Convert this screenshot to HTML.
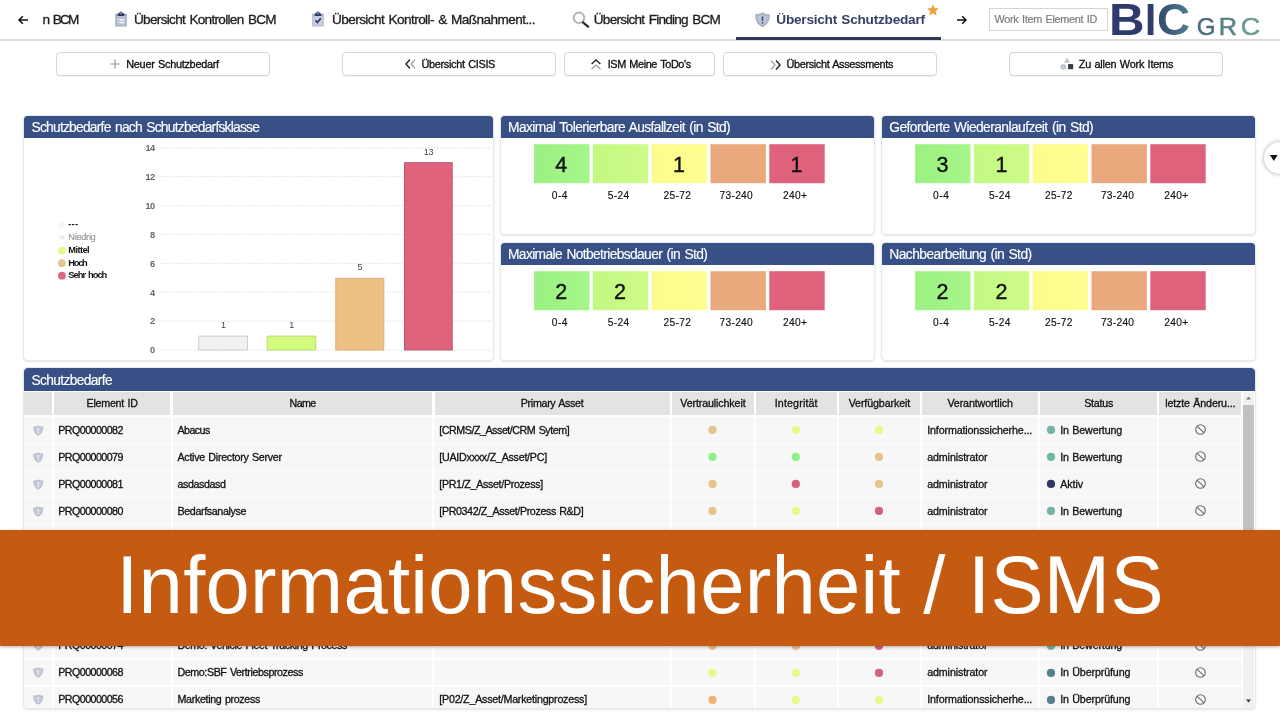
<!DOCTYPE html>
<html lang="de">
<head>
<meta charset="utf-8">
<title>Informationssicherheit / ISMS</title>
<style>
html,body{margin:0;padding:0;}
body{width:1280px;height:720px;overflow:hidden;background:#fff;position:relative;font-family:"Liberation Sans",sans-serif;color:#222;}
.abs{position:absolute;}
.t{position:absolute;white-space:nowrap;line-height:1;}
svg{position:absolute;overflow:visible;}
/* top bar */
#topline{left:0;top:39px;width:1280px;height:1.5px;background:#dcdcdc;}
.tab{font-size:13.6px;color:#1c1c1c;top:13.2px;-webkit-text-stroke:0.3px #1c1c1c;}
.tab.act{font-weight:bold;color:#363f66;-webkit-text-stroke:0;}
#activeline{left:736px;top:36.8px;width:205px;height:2.8px;background:#2e3858;}
#search{left:989px;top:8px;width:119.3px;height:22.5px;border:1px solid #d6d6d6;box-sizing:border-box;background:#fff;}
#search .t{left:4.5px;top:5.3px;font-size:10.9px;color:#7d7d7d;-webkit-text-stroke:0.2px #7d7d7d;}
/* buttons */
.btn{position:absolute;top:52px;height:23.5px;border:1px solid #d6d6d6;border-radius:4px;background:#fff;box-sizing:border-box;box-shadow:0 1px 1px rgba(0,0,0,.06);}
.btn .t{font-size:10.9px;top:5.7px;color:#111;-webkit-text-stroke:0.32px #111;}
/* panels */
.panel{position:absolute;background:#fff;border-radius:4px;box-shadow:0 0 0 1px #e6e8ec,0 1px 3px rgba(0,0,0,.22);}
.ph{position:absolute;left:0;top:0;right:0;height:22.5px;background:#385086;border-radius:3.5px 3.5px 0 0;}
.ph .t{left:7.5px;top:5.2px;font-size:13.8px;color:#fff;-webkit-text-stroke:0.15px #fff;}
.tn{top:39.6px;width:55.4px;text-align:center;font-size:21.5px;color:#111;-webkit-text-stroke:0.4px #111;}
.tl{position:absolute;top:75.5px;width:55.4px;text-align:center;font-size:10.2px;color:#111;line-height:1;white-space:nowrap;-webkit-text-stroke:0.15px #111;}
/* chart */
.leg{font-size:9.3px;color:#111;}
.ld{position:absolute;width:8px;height:8px;border-radius:50%;}
/* table */
#tbl{left:24px;top:368px;width:1231.3px;height:340px;overflow:hidden;}
.th{position:absolute;top:23.8px;height:23.3px;background:#e3e3e3;}
.th .t{left:0;right:0;text-align:center;top:6.2px;font-size:10.7px;color:#111;-webkit-text-stroke:0.3px #111;}
.row{position:absolute;left:0;width:1219px;height:25.6px;background:#f7f7f7;}
.vl{position:absolute;top:24px;bottom:0;width:2px;background:#fff;}
.row .t{font-size:10.7px;top:7.5px;color:#111;-webkit-text-stroke:0.3px #111;}
.dot{position:absolute;top:8.7px;width:8.4px;height:8.4px;border-radius:50%;}
.sd{position:absolute;top:8.7px;left:1022.8px;width:8.4px;height:8.4px;border-radius:50%;}
#banner{left:0;top:530px;width:1280px;height:116px;background:#c55a11;box-shadow:0 1px 3px rgba(0,0,0,.3);}
#banner .t{left:116.2px;top:15.8px;font-size:79.6px;color:#fff;transform:scaleY(1.035);transform-origin:0 82%;}
</style>
</head>
<body>
<div class="abs" id="topline"></div>
<div class="abs" id="activeline"></div>
<svg style="left:18px;top:15px" width="10" height="10" viewBox="0 0 10 10"><path d="M10 5H1.2M4.8 1.2L1 5l3.8 3.8" fill="none" stroke="#111" stroke-width="1.5"/></svg>
<div class="t tab" style="left:42.5px;letter-spacing:-1.751px;word-spacing:2.295px">n BCM</div>
<svg style="left:115px;top:11px" width="12" height="16" viewBox="0 0 12 16"><rect x="0.2" y="2.4" width="11.6" height="13.2" rx="1.2" fill="#a0abc2"/><rect x="1.5" y="4.6" width="9" height="9.8" fill="#b7c1d5"/><path d="M2.6 5V3.2L4.6 1.6Q6 -0.4 7.4 1.6L9.4 3.2V5Z" fill="#303c67"/><circle cx="6" cy="2.2" r="0.7" fill="#dfe3ee"/><path d="M4.4 8.7h5M4.4 11.4h5" stroke="#f3f5f9" stroke-width="1.5"/><path d="M2.4 8.7h1M2.4 11.4h1" stroke="#dfe4ee" stroke-width="1.3"/></svg>
<div class="t tab" style="left:134px;letter-spacing:-0.704px;word-spacing:1.248px">Übersicht Kontrollen BCM</div>
<svg style="left:312.3px;top:11px" width="12" height="16" viewBox="0 0 12 16"><rect x="0.2" y="2.4" width="11.6" height="13.2" rx="1.2" fill="#b3b9cf"/><rect x="1.5" y="4.6" width="9" height="9.8" fill="#c9cee0"/><path d="M2.6 5V3.2L4.6 1.6Q6 -0.4 7.4 1.6L9.4 3.2V5Z" fill="#303c67"/><circle cx="6" cy="2.2" r="0.7" fill="#dfe3ee"/><path d="M3.4 9.4l2 2 3.4-4" fill="none" stroke="#383e69" stroke-width="1.7"/></svg>
<div class="t tab" style="left:332px;letter-spacing:-0.578px;word-spacing:1.122px">Übersicht Kontroll- &amp; Maßnahment...</div>
<svg style="left:572px;top:11px" width="17" height="17" viewBox="0 0 17 17"><circle cx="7" cy="6.8" r="5.3" fill="#fbfbfb" stroke="#b3b3b3" stroke-width="1.9"/><path d="M10.9 11.4l5.2 4.3" stroke="#2e2e33" stroke-width="2.3" stroke-linecap="round"/></svg>
<div class="t tab" style="left:593.8px;letter-spacing:-0.765px;word-spacing:1.309px">Übersicht Finding BCM</div>
<svg style="left:754.6px;top:11.5px" width="15.00" height="15.60" viewBox="0 0 15 15.6"><path d="M7.5 0.2C5.6 1.6 3.2 2.3 0.3 2.3C0.1 8.6 2.3 13 7.5 15.4C12.7 13 14.9 8.6 14.7 2.3C11.8 2.3 9.4 1.6 7.5 0.2Z" fill="#a9afbb"/><path d="M7.5 2.2C6 3.2 4.2 3.8 2.2 3.9C2.2 8.6 3.9 11.6 7.5 13.4C11.1 11.6 12.8 8.6 12.8 3.9C10.8 3.8 9 3.2 7.5 2.2Z" fill="#b9c5d8"/><rect x="6.7" y="4.4" width="1.6" height="4.6" fill="#46557a"/><rect x="6.7" y="10" width="1.6" height="1.6" fill="#46557a"/></svg>
<div class="t tab act" style="left:776.3px;letter-spacing:-0.222px;word-spacing:0.766px">Übersicht Schutzbedarf</div>
<svg style="left:926.5px;top:3.5px" width="12" height="12" viewBox="0 0 12 12"><path d="M6 0.3l1.7 3.8 4.1 0.4-3.1 2.8 0.9 4.1L6 9.3 2.4 11.4l0.9-4.1L0.2 4.5l4.1-0.4z" fill="#e9a43e"/></svg>
<svg style="left:956.5px;top:15px" width="10" height="10" viewBox="0 0 10 10"><path d="M0 5h8.8M5.2 1.2L9 5 5.2 8.8" fill="none" stroke="#111" stroke-width="1.5"/></svg>
<div class="abs" id="search"><div class="t" style="letter-spacing:-0.297px;word-spacing:0.733px">Work Item Element ID</div></div>
<svg style="left:0;top:0" width="1280" height="40" viewBox="0 0 1280 40" font-family="Liberation Sans, sans-serif"><defs><linearGradient id="lgc" gradientUnits="userSpaceOnUse" x1="0" x2="30" y1="0" y2="0"><stop offset="0" stop-color="#33466f"/><stop offset="1" stop-color="#4d7e8c"/></linearGradient></defs><g transform="translate(1109.01,34.6) scale(1.118,1)"><text x="0" y="0" font-size="44.0" font-weight="bold" fill="#2e3a6b">B</text></g><g transform="translate(1145.11,34.6) scale(0.915,1)"><text x="0" y="0" font-size="44.0" font-weight="bold" fill="#2f3e6d">I</text></g><g transform="translate(1157.12,34.6) scale(1.043,1)"><text x="0" y="0" font-size="44.0" font-weight="bold" fill="url(#lgc)">C</text></g><g transform="translate(1196.78,34.6) scale(1.043,1)"><text x="0" y="0" font-size="23.2" font-weight="normal" fill="#4c6c7f" stroke="#4c6c7f" stroke-width="0.5">G</text></g><g transform="translate(1218.63,34.6) scale(1.089,1)"><text x="0" y="0" font-size="23.2" font-weight="normal" fill="#598388" stroke="#598388" stroke-width="0.5">R</text></g><g transform="translate(1240.64,34.6) scale(1.157,1)"><text x="0" y="0" font-size="23.2" font-weight="normal" fill="#6a9a93" stroke="#6a9a93" stroke-width="0.5">C</text></g></svg>
<div class="btn" style="left:56px;width:214px"><svg style="left:52.5px;top:6px" width="10" height="10" viewBox="0 0 10 10"><path d="M5 0.3v9.4M0.3 5h9.4" stroke="#8e8e8e" stroke-width="1.1"/></svg><div class="t" style="left:69.25px;letter-spacing:-0.277px;word-spacing:0.713px">Neuer Schutzbedarf</div></div>
<div class="btn" style="left:342px;width:214px"><svg style="left:62px;top:6px" width="11" height="10" viewBox="0 0 11 10"><path d="M5 0.6L1 5l4 4.4" fill="none" stroke="#2a2a2a" stroke-width="1.5"/><path d="M10 0.6L6 5l4 4.4" fill="none" stroke="#999" stroke-width="1.2"/></svg><div class="t" style="left:78.5px;letter-spacing:-0.310px;word-spacing:0.746px">Übersicht CISIS</div></div>
<div class="btn" style="left:564px;width:150.6px"><svg style="left:26px;top:6px" width="10" height="11" viewBox="0 0 10 11"><path d="M0.6 5L5 1l4.4 4" fill="none" stroke="#2a2a2a" stroke-width="1.5"/><path d="M0.6 10L5 6l4.4 4" fill="none" stroke="#999" stroke-width="1.2"/></svg><div class="t" style="left:42.75px;letter-spacing:-0.410px;word-spacing:0.846px">ISM Meine ToDo's</div></div>
<div class="btn" style="left:723px;width:214px"><svg style="left:46px;top:6.5px" width="11" height="10" viewBox="0 0 11 10"><path d="M1 0.6L5 5 1 9.4" fill="none" stroke="#999" stroke-width="1.2"/><path d="M6 0.6L10 5 6 9.4" fill="none" stroke="#2a2a2a" stroke-width="1.5"/></svg><div class="t" style="left:62.5px;letter-spacing:-0.355px;word-spacing:0.791px">Übersicht Assessments</div></div>
<div class="btn" style="left:1009px;width:214px"><svg style="left:50.3px;top:4px" width="14" height="13" viewBox="0 0 14 13"><path d="M7 0.5l3 5.2H4z" fill="#c2c6d6"/><circle cx="3.3" cy="9.8" r="2.1" fill="#cfd4e2" stroke="#a9afc4" stroke-width="1.1"/><rect x="8" y="7" width="5.2" height="5.2" rx="0.8" fill="#3b3f4c"/></svg><div class="t" style="left:68.75px;letter-spacing:-0.222px;word-spacing:0.658px">Zu allen Work Items</div></div>
<div class="abs" style="left:1264px;top:141.5px;width:32px;height:32px;border-radius:50%;background:#fff;box-shadow:0 0 4px rgba(0,0,0,.36)"></div>
<svg style="left:1270px;top:155px" width="7.6" height="6" viewBox="0 0 7.6 6"><path d="M0 0h7.6L3.8 6z" fill="#111"/></svg>
<div class="panel" style="left:24px;top:115.5px;width:468.5px;height:244.5px"><div class="ph"><div class="t" style="letter-spacing:-0.759px;word-spacing:1.311px">Schutzbedarfe nach Schutzbedarfsklasse</div></div>
<svg style="left:0;top:0" width="468" height="245" viewBox="0 0 468 245" font-family="Liberation Sans, sans-serif"><line x1="137" y1="234.0" x2="467.5" y2="234.0" stroke="#dedede" stroke-width="1.2" stroke-dasharray="1.3 1.7"/><text x="130.6" y="237.3" font-size="9.2" font-weight="bold" letter-spacing="-0.6" fill="#666" text-anchor="end">0</text><line x1="137" y1="205.1" x2="467.5" y2="205.1" stroke="#dedede" stroke-width="1.2" stroke-dasharray="1.3 1.7"/><text x="130.6" y="208.4" font-size="9.2" font-weight="bold" letter-spacing="-0.6" fill="#666" text-anchor="end">2</text><line x1="137" y1="176.2" x2="467.5" y2="176.2" stroke="#dedede" stroke-width="1.2" stroke-dasharray="1.3 1.7"/><text x="130.6" y="179.5" font-size="9.2" font-weight="bold" letter-spacing="-0.6" fill="#666" text-anchor="end">4</text><line x1="137" y1="147.3" x2="467.5" y2="147.3" stroke="#dedede" stroke-width="1.2" stroke-dasharray="1.3 1.7"/><text x="130.6" y="150.6" font-size="9.2" font-weight="bold" letter-spacing="-0.6" fill="#666" text-anchor="end">6</text><line x1="137" y1="118.5" x2="467.5" y2="118.5" stroke="#dedede" stroke-width="1.2" stroke-dasharray="1.3 1.7"/><text x="130.6" y="121.8" font-size="9.2" font-weight="bold" letter-spacing="-0.6" fill="#666" text-anchor="end">8</text><line x1="137" y1="89.6" x2="467.5" y2="89.6" stroke="#dedede" stroke-width="1.2" stroke-dasharray="1.3 1.7"/><text x="130.6" y="92.9" font-size="9.2" font-weight="bold" letter-spacing="-0.6" fill="#666" text-anchor="end">10</text><line x1="137" y1="60.7" x2="467.5" y2="60.7" stroke="#dedede" stroke-width="1.2" stroke-dasharray="1.3 1.7"/><text x="130.6" y="64.0" font-size="9.2" font-weight="bold" letter-spacing="-0.6" fill="#666" text-anchor="end">12</text><line x1="137" y1="31.8" x2="467.5" y2="31.8" stroke="#dedede" stroke-width="1.2" stroke-dasharray="1.3 1.7"/><text x="130.6" y="35.1" font-size="9.2" font-weight="bold" letter-spacing="-0.6" fill="#666" text-anchor="end">14</text><rect x="174.8" y="220.1" width="48.7" height="13.9" fill="#f2f2f2" stroke="#cdcdcd" stroke-width="1"/><text x="199.2" y="212.1" font-size="9" letter-spacing="-0.4" fill="#444" text-anchor="middle">1</text><rect x="243.2" y="220.1" width="48.6" height="13.9" fill="#d3fb7d" stroke="#b9dc74" stroke-width="1"/><text x="267.5" y="212.1" font-size="9" letter-spacing="-0.4" fill="#444" text-anchor="middle">1</text><rect x="311.8" y="162.3" width="48.0" height="71.7" fill="#ecc182" stroke="#d9b076" stroke-width="1"/><text x="335.8" y="154.3" font-size="9" letter-spacing="-0.4" fill="#444" text-anchor="middle">5</text><rect x="380.5" y="46.7" width="47.7" height="187.3" fill="#e0637d" stroke="#b55b6e" stroke-width="1"/><text x="404.4" y="38.7" font-size="9" letter-spacing="-0.4" fill="#444" text-anchor="middle">13</text></svg>
<svg style="left:0;top:0" width="100" height="245" viewBox="0 0 100 245"><circle cx="37.9" cy="108.95" r="3.9" fill="#f7f7f7"/><path d="M35.699999999999996 119.5l4.4 4.4M40.1 119.5l-4.4 4.4" stroke="#dcecd5" stroke-width="1.1"/><circle cx="37.9" cy="134.7" r="3.9" fill="#e3fa8c"/><circle cx="37.9" cy="147.2" r="3.9" fill="#e6c48d"/><circle cx="37.9" cy="159.7" r="3.9" fill="#da6a85"/></svg>
<div class="t leg" style="left:44.3px;top:104.75px;color:#111;font-weight:700;letter-spacing:0.224px">---</div>
<div class="t leg" style="left:44.3px;top:117.5px;color:#9a9a9a;font-weight:400;-webkit-text-stroke:0.2px currentColor;letter-spacing:-0.327px">Niedrig</div>
<div class="t leg" style="left:44.3px;top:130.5px;color:#111;font-weight:700;letter-spacing:-0.607px">Mittel</div>
<div class="t leg" style="left:44.3px;top:143.0px;color:#111;font-weight:700;letter-spacing:-1.252px">Hoch</div>
<div class="t leg" style="left:44.3px;top:155.5px;color:#111;font-weight:700;letter-spacing:-0.978px;word-spacing:1.350px">Sehr hoch</div>
</div>
<div class="panel" style="left:500.5px;top:115.5px;width:373.8px;height:118px"><div class="ph"><div class="t" style="letter-spacing:-0.599px;word-spacing:1.151px">Maximal Tolerierbare Ausfallzeit (in Std)</div></div>
<svg style="left:0;top:0" width="373.8" height="118" viewBox="0 0 373.8 118"><defs><linearGradient id="ga0" x1="0" x2="1" y1="0" y2="0"><stop offset="0" stop-color="#9af181"/><stop offset="1" stop-color="#a6f689"/></linearGradient><linearGradient id="ga1" x1="0" x2="1" y1="0" y2="0"><stop offset="0" stop-color="#c2f982"/><stop offset="1" stop-color="#cffb88"/></linearGradient><linearGradient id="ga2" x1="0" x2="1" y1="0" y2="0"><stop offset="0" stop-color="#fbfc8b"/><stop offset="1" stop-color="#fefe91"/></linearGradient></defs><rect x="33.10" y="28.2" width="55.4" height="39" fill="url(#ga0)"/><rect x="91.90" y="28.2" width="55.4" height="39" fill="url(#ga1)"/><rect x="150.70" y="28.2" width="55.4" height="39" fill="url(#ga2)"/><rect x="209.50" y="28.2" width="55.4" height="39" fill="#e9a97c"/><rect x="268.30" y="28.2" width="55.4" height="39" fill="#df627c"/></svg>
<div class="t tn" style="left:33.1px">4</div><div class="tl" style="left:31.7px;letter-spacing:0.541px">0-4</div>
<div class="tl" style="left:90.5px;letter-spacing:0.342px">5-24</div>
<div class="t tn" style="left:150.7px">1</div><div class="tl" style="left:149.3px;letter-spacing:0.338px">25-72</div>
<div class="tl" style="left:208.1px;letter-spacing:0.276px">73-240</div>
<div class="t tn" style="left:268.3px">1</div><div class="tl" style="left:266.9px;letter-spacing:0.354px">240+</div>
</div>
<div class="panel" style="left:881.8px;top:115.5px;width:373.5px;height:118px"><div class="ph"><div class="t" style="letter-spacing:-0.569px;word-spacing:1.121px">Geforderte Wiederanlaufzeit (in Std)</div></div>
<svg style="left:0;top:0" width="373.5" height="118" viewBox="0 0 373.5 118"><defs><linearGradient id="gb0" x1="0" x2="1" y1="0" y2="0"><stop offset="0" stop-color="#9af181"/><stop offset="1" stop-color="#a6f689"/></linearGradient><linearGradient id="gb1" x1="0" x2="1" y1="0" y2="0"><stop offset="0" stop-color="#c2f982"/><stop offset="1" stop-color="#cffb88"/></linearGradient><linearGradient id="gb2" x1="0" x2="1" y1="0" y2="0"><stop offset="0" stop-color="#fbfc8b"/><stop offset="1" stop-color="#fefe91"/></linearGradient></defs><rect x="33.10" y="28.2" width="55.4" height="39" fill="url(#gb0)"/><rect x="91.90" y="28.2" width="55.4" height="39" fill="url(#gb1)"/><rect x="150.70" y="28.2" width="55.4" height="39" fill="url(#gb2)"/><rect x="209.50" y="28.2" width="55.4" height="39" fill="#e9a97c"/><rect x="268.30" y="28.2" width="55.4" height="39" fill="#df627c"/></svg>
<div class="t tn" style="left:33.1px">3</div><div class="tl" style="left:31.7px;letter-spacing:0.541px">0-4</div>
<div class="t tn" style="left:91.9px">1</div><div class="tl" style="left:90.5px;letter-spacing:0.342px">5-24</div>
<div class="tl" style="left:149.3px;letter-spacing:0.338px">25-72</div>
<div class="tl" style="left:208.1px;letter-spacing:0.276px">73-240</div>
<div class="tl" style="left:266.9px;letter-spacing:0.354px">240+</div>
</div>
<div class="panel" style="left:500.5px;top:242.5px;width:373.8px;height:117.5px"><div class="ph"><div class="t" style="letter-spacing:-0.629px;word-spacing:1.181px">Maximale Notbetriebsdauer (in Std)</div></div>
<svg style="left:0;top:0" width="373.8" height="117.5" viewBox="0 0 373.8 117.5"><defs><linearGradient id="gc0" x1="0" x2="1" y1="0" y2="0"><stop offset="0" stop-color="#9af181"/><stop offset="1" stop-color="#a6f689"/></linearGradient><linearGradient id="gc1" x1="0" x2="1" y1="0" y2="0"><stop offset="0" stop-color="#c2f982"/><stop offset="1" stop-color="#cffb88"/></linearGradient><linearGradient id="gc2" x1="0" x2="1" y1="0" y2="0"><stop offset="0" stop-color="#fbfc8b"/><stop offset="1" stop-color="#fefe91"/></linearGradient></defs><rect x="33.10" y="28.2" width="55.4" height="39" fill="url(#gc0)"/><rect x="91.90" y="28.2" width="55.4" height="39" fill="url(#gc1)"/><rect x="150.70" y="28.2" width="55.4" height="39" fill="url(#gc2)"/><rect x="209.50" y="28.2" width="55.4" height="39" fill="#e9a97c"/><rect x="268.30" y="28.2" width="55.4" height="39" fill="#df627c"/></svg>
<div class="t tn" style="left:33.1px">2</div><div class="tl" style="left:31.7px;letter-spacing:0.541px">0-4</div>
<div class="t tn" style="left:91.9px">2</div><div class="tl" style="left:90.5px;letter-spacing:0.342px">5-24</div>
<div class="tl" style="left:149.3px;letter-spacing:0.338px">25-72</div>
<div class="tl" style="left:208.1px;letter-spacing:0.276px">73-240</div>
<div class="tl" style="left:266.9px;letter-spacing:0.354px">240+</div>
</div>
<div class="panel" style="left:881.8px;top:242.5px;width:373.5px;height:117.5px"><div class="ph"><div class="t" style="letter-spacing:-0.557px;word-spacing:1.109px">Nachbearbeitung (in Std)</div></div>
<svg style="left:0;top:0" width="373.5" height="117.5" viewBox="0 0 373.5 117.5"><defs><linearGradient id="gd0" x1="0" x2="1" y1="0" y2="0"><stop offset="0" stop-color="#9af181"/><stop offset="1" stop-color="#a6f689"/></linearGradient><linearGradient id="gd1" x1="0" x2="1" y1="0" y2="0"><stop offset="0" stop-color="#c2f982"/><stop offset="1" stop-color="#cffb88"/></linearGradient><linearGradient id="gd2" x1="0" x2="1" y1="0" y2="0"><stop offset="0" stop-color="#fbfc8b"/><stop offset="1" stop-color="#fefe91"/></linearGradient></defs><rect x="33.10" y="28.2" width="55.4" height="39" fill="url(#gd0)"/><rect x="91.90" y="28.2" width="55.4" height="39" fill="url(#gd1)"/><rect x="150.70" y="28.2" width="55.4" height="39" fill="url(#gd2)"/><rect x="209.50" y="28.2" width="55.4" height="39" fill="#e9a97c"/><rect x="268.30" y="28.2" width="55.4" height="39" fill="#df627c"/></svg>
<div class="t tn" style="left:33.1px">2</div><div class="tl" style="left:31.7px;letter-spacing:0.541px">0-4</div>
<div class="t tn" style="left:91.9px">2</div><div class="tl" style="left:90.5px;letter-spacing:0.342px">5-24</div>
<div class="tl" style="left:149.3px;letter-spacing:0.338px">25-72</div>
<div class="tl" style="left:208.1px;letter-spacing:0.276px">73-240</div>
<div class="tl" style="left:266.9px;letter-spacing:0.354px">240+</div>
</div>
<div class="panel" id="tbl"><div class="ph"><div class="t" style="top:5.9px;letter-spacing:-0.657px">Schutzbedarfe</div></div>
<div class="th" style="left:-0.5px;width:28.3px"><div class="t"></div></div>
<div class="th" style="left:29.8px;width:116.6px"><div class="t" style="letter-spacing:-0.243px;word-spacing:0.671px">Element ID</div></div>
<div class="th" style="left:148.7px;width:259.7px"><div class="t" style="letter-spacing:-0.637px">Name</div></div>
<div class="th" style="left:410.6px;width:235.0px"><div class="t" style="letter-spacing:-0.318px;word-spacing:0.746px">Primary Asset</div></div>
<div class="th" style="left:648.0px;width:81.8px"><div class="t" style="letter-spacing:-0.126px">Vertraulichkeit</div></div>
<div class="th" style="left:731.9px;width:80.7px"><div class="t" style="letter-spacing:0.140px">Integrität</div></div>
<div class="th" style="left:814.8px;width:81.2px"><div class="t" style="letter-spacing:-0.115px">Verfügbarkeit</div></div>
<div class="th" style="left:898.0px;width:116.2px"><div class="t" style="letter-spacing:-0.136px">Verantwortlich</div></div>
<div class="th" style="left:1016.2px;width:116.8px"><div class="t" style="letter-spacing:-0.241px">Status</div></div>
<div class="th" style="left:1135.3px;width:82.0px"><div class="t" style="letter-spacing:-0.140px;word-spacing:0.568px">letzte Änderu...</div></div>
<div class="row" style="top:49.2px">
<svg style="left:8.5px;top:7.6px" width="10.50" height="10.92" viewBox="0 0 15 15.6"><path d="M7.5 0.2C5.6 1.6 3.2 2.3 0.3 2.3C0.1 8.6 2.3 13 7.5 15.4C12.7 13 14.9 8.6 14.7 2.3C11.8 2.3 9.4 1.6 7.5 0.2Z" fill="#bcc0cc"/><path d="M7.5 2.2C6 3.2 4.2 3.8 2.2 3.9C2.2 8.6 3.9 11.6 7.5 13.4C11.1 11.6 12.8 8.6 12.8 3.9C10.8 3.8 9 3.2 7.5 2.2Z" fill="#c4cad8"/><rect x="6.7" y="4.4" width="1.6" height="4.6" fill="#f6f7fa"/><rect x="6.7" y="10" width="1.6" height="1.6" fill="#f6f7fa"/></svg>
<div class="t" style="left:34.3px;letter-spacing:-0.566px">PRQ00000082</div><div class="t" style="left:153.5px;letter-spacing:-0.560px">Abacus</div><div class="t" style="left:415.3px;letter-spacing:-0.465px;word-spacing:0.893px">[CRMS/Z_Asset/CRM Sytem]</div>
<svg style="left:0;top:0" width="1219" height="26" viewBox="0 0 1219 26"><circle cx="688.5" cy="12.9" r="4.1" fill="#e6c58c"/><circle cx="771.8" cy="12.9" r="4.1" fill="#e5fa8b"/><circle cx="855.0" cy="12.9" r="4.1" fill="#e5fa8b"/><circle cx="1027.0" cy="12.9" r="4.1" fill="#70b5a6"/></svg>
<div class="t" style="left:903.2px;letter-spacing:-0.137px">Informationssicherhe...</div><div class="t" style="left:1036.2px;letter-spacing:-0.131px;word-spacing:0.559px">In Bewertung</div>
<svg style="left:1170.5px;top:7.3px" width="11" height="11" viewBox="0 0 11 11"><circle cx="5.5" cy="5.5" r="4.8" fill="none" stroke="#6a6a6a" stroke-width="1.1"/><path d="M2.2 2.4l6.6 6.2" stroke="#6a6a6a" stroke-width="1.1"/></svg>
</div>
<div class="row" style="top:76.1px">
<svg style="left:8.5px;top:7.6px" width="10.50" height="10.92" viewBox="0 0 15 15.6"><path d="M7.5 0.2C5.6 1.6 3.2 2.3 0.3 2.3C0.1 8.6 2.3 13 7.5 15.4C12.7 13 14.9 8.6 14.7 2.3C11.8 2.3 9.4 1.6 7.5 0.2Z" fill="#bcc0cc"/><path d="M7.5 2.2C6 3.2 4.2 3.8 2.2 3.9C2.2 8.6 3.9 11.6 7.5 13.4C11.1 11.6 12.8 8.6 12.8 3.9C10.8 3.8 9 3.2 7.5 2.2Z" fill="#c4cad8"/><rect x="6.7" y="4.4" width="1.6" height="4.6" fill="#f6f7fa"/><rect x="6.7" y="10" width="1.6" height="1.6" fill="#f6f7fa"/></svg>
<div class="t" style="left:34.3px;letter-spacing:-0.566px">PRQ00000079</div><div class="t" style="left:153.5px;letter-spacing:-0.277px;word-spacing:0.705px">Active Directory Server</div><div class="t" style="left:415.3px;letter-spacing:-0.249px">[UAIDxxxx/Z_Asset/PC]</div>
<svg style="left:0;top:0" width="1219" height="26" viewBox="0 0 1219 26"><circle cx="688.5" cy="12.9" r="4.1" fill="#8ff086"/><circle cx="771.8" cy="12.9" r="4.1" fill="#8ff086"/><circle cx="855.0" cy="12.9" r="4.1" fill="#e6c58c"/><circle cx="1027.0" cy="12.9" r="4.1" fill="#70b5a6"/></svg>
<div class="t" style="left:903.2px;letter-spacing:-0.119px">administrator</div><div class="t" style="left:1036.2px;letter-spacing:-0.131px;word-spacing:0.559px">In Bewertung</div>
<svg style="left:1170.5px;top:7.3px" width="11" height="11" viewBox="0 0 11 11"><circle cx="5.5" cy="5.5" r="4.8" fill="none" stroke="#6a6a6a" stroke-width="1.1"/><path d="M2.2 2.4l6.6 6.2" stroke="#6a6a6a" stroke-width="1.1"/></svg>
</div>
<div class="row" style="top:103.1px">
<svg style="left:8.5px;top:7.6px" width="10.50" height="10.92" viewBox="0 0 15 15.6"><path d="M7.5 0.2C5.6 1.6 3.2 2.3 0.3 2.3C0.1 8.6 2.3 13 7.5 15.4C12.7 13 14.9 8.6 14.7 2.3C11.8 2.3 9.4 1.6 7.5 0.2Z" fill="#bcc0cc"/><path d="M7.5 2.2C6 3.2 4.2 3.8 2.2 3.9C2.2 8.6 3.9 11.6 7.5 13.4C11.1 11.6 12.8 8.6 12.8 3.9C10.8 3.8 9 3.2 7.5 2.2Z" fill="#c4cad8"/><rect x="6.7" y="4.4" width="1.6" height="4.6" fill="#f6f7fa"/><rect x="6.7" y="10" width="1.6" height="1.6" fill="#f6f7fa"/></svg>
<div class="t" style="left:34.3px;letter-spacing:-0.566px">PRQ00000081</div><div class="t" style="left:153.5px;letter-spacing:-0.418px">asdasdasd</div><div class="t" style="left:415.3px;letter-spacing:-0.331px">[PR1/Z_Asset/Prozess]</div>
<svg style="left:0;top:0" width="1219" height="26" viewBox="0 0 1219 26"><circle cx="688.5" cy="12.9" r="4.1" fill="#e6c58c"/><circle cx="771.8" cy="12.9" r="4.1" fill="#d5607b"/><circle cx="855.0" cy="12.9" r="4.1" fill="#e6c58c"/><circle cx="1027.0" cy="12.9" r="4.1" fill="#32346a"/></svg>
<div class="t" style="left:903.2px;letter-spacing:-0.119px">administrator</div><div class="t" style="left:1036.2px;letter-spacing:-0.079px">Aktiv</div>
<svg style="left:1170.5px;top:7.3px" width="11" height="11" viewBox="0 0 11 11"><circle cx="5.5" cy="5.5" r="4.8" fill="none" stroke="#6a6a6a" stroke-width="1.1"/><path d="M2.2 2.4l6.6 6.2" stroke="#6a6a6a" stroke-width="1.1"/></svg>
</div>
<div class="row" style="top:130.0px">
<svg style="left:8.5px;top:7.6px" width="10.50" height="10.92" viewBox="0 0 15 15.6"><path d="M7.5 0.2C5.6 1.6 3.2 2.3 0.3 2.3C0.1 8.6 2.3 13 7.5 15.4C12.7 13 14.9 8.6 14.7 2.3C11.8 2.3 9.4 1.6 7.5 0.2Z" fill="#bcc0cc"/><path d="M7.5 2.2C6 3.2 4.2 3.8 2.2 3.9C2.2 8.6 3.9 11.6 7.5 13.4C11.1 11.6 12.8 8.6 12.8 3.9C10.8 3.8 9 3.2 7.5 2.2Z" fill="#c4cad8"/><rect x="6.7" y="4.4" width="1.6" height="4.6" fill="#f6f7fa"/><rect x="6.7" y="10" width="1.6" height="1.6" fill="#f6f7fa"/></svg>
<div class="t" style="left:34.3px;letter-spacing:-0.566px">PRQ00000080</div><div class="t" style="left:153.5px;letter-spacing:-0.370px">Bedarfsanalyse</div><div class="t" style="left:415.3px;letter-spacing:-0.381px;word-spacing:0.809px">[PR0342/Z_Asset/Prozess R&amp;D]</div>
<svg style="left:0;top:0" width="1219" height="26" viewBox="0 0 1219 26"><circle cx="688.5" cy="12.9" r="4.1" fill="#e6c58c"/><circle cx="771.8" cy="12.9" r="4.1" fill="#e5fa8b"/><circle cx="855.0" cy="12.9" r="4.1" fill="#d5607b"/><circle cx="1027.0" cy="12.9" r="4.1" fill="#70b5a6"/></svg>
<div class="t" style="left:903.2px;letter-spacing:-0.119px">administrator</div><div class="t" style="left:1036.2px;letter-spacing:-0.131px;word-spacing:0.559px">In Bewertung</div>
<svg style="left:1170.5px;top:7.3px" width="11" height="11" viewBox="0 0 11 11"><circle cx="5.5" cy="5.5" r="4.8" fill="none" stroke="#6a6a6a" stroke-width="1.1"/><path d="M2.2 2.4l6.6 6.2" stroke="#6a6a6a" stroke-width="1.1"/></svg>
</div>
<div class="row" style="top:156.9px">
<svg style="left:8.5px;top:7.6px" width="10.50" height="10.92" viewBox="0 0 15 15.6"><path d="M7.5 0.2C5.6 1.6 3.2 2.3 0.3 2.3C0.1 8.6 2.3 13 7.5 15.4C12.7 13 14.9 8.6 14.7 2.3C11.8 2.3 9.4 1.6 7.5 0.2Z" fill="#bcc0cc"/><path d="M7.5 2.2C6 3.2 4.2 3.8 2.2 3.9C2.2 8.6 3.9 11.6 7.5 13.4C11.1 11.6 12.8 8.6 12.8 3.9C10.8 3.8 9 3.2 7.5 2.2Z" fill="#c4cad8"/><rect x="6.7" y="4.4" width="1.6" height="4.6" fill="#f6f7fa"/><rect x="6.7" y="10" width="1.6" height="1.6" fill="#f6f7fa"/></svg>
<div class="t" style="left:34.3px;letter-spacing:-0.566px">PRQ00000078</div><div class="t" style="left:153.5px;letter-spacing:-0.238px">Beschaffung</div><div class="t" style="left:415.3px;letter-spacing:-0.299px">[PR0343/Z_Asset/Beschaffung]</div>
<svg style="left:0;top:0" width="1219" height="26" viewBox="0 0 1219 26"><circle cx="688.5" cy="12.9" r="4.1" fill="#e6c58c"/><circle cx="771.8" cy="12.9" r="4.1" fill="#e5fa8b"/><circle cx="855.0" cy="12.9" r="4.1" fill="#e6c58c"/><circle cx="1027.0" cy="12.9" r="4.1" fill="#70b5a6"/></svg>
<div class="t" style="left:903.2px;letter-spacing:-0.119px">administrator</div><div class="t" style="left:1036.2px;letter-spacing:-0.131px;word-spacing:0.559px">In Bewertung</div>
<svg style="left:1170.5px;top:7.3px" width="11" height="11" viewBox="0 0 11 11"><circle cx="5.5" cy="5.5" r="4.8" fill="none" stroke="#6a6a6a" stroke-width="1.1"/><path d="M2.2 2.4l6.6 6.2" stroke="#6a6a6a" stroke-width="1.1"/></svg>
</div>
<div class="row" style="top:183.9px">
<svg style="left:8.5px;top:7.6px" width="10.50" height="10.92" viewBox="0 0 15 15.6"><path d="M7.5 0.2C5.6 1.6 3.2 2.3 0.3 2.3C0.1 8.6 2.3 13 7.5 15.4C12.7 13 14.9 8.6 14.7 2.3C11.8 2.3 9.4 1.6 7.5 0.2Z" fill="#bcc0cc"/><path d="M7.5 2.2C6 3.2 4.2 3.8 2.2 3.9C2.2 8.6 3.9 11.6 7.5 13.4C11.1 11.6 12.8 8.6 12.8 3.9C10.8 3.8 9 3.2 7.5 2.2Z" fill="#c4cad8"/><rect x="6.7" y="4.4" width="1.6" height="4.6" fill="#f6f7fa"/><rect x="6.7" y="10" width="1.6" height="1.6" fill="#f6f7fa"/></svg>
<div class="t" style="left:34.3px;letter-spacing:-0.566px">PRQ00000077</div><div class="t" style="left:153.5px;letter-spacing:-0.816px;word-spacing:1.244px">CRM System</div><div class="t" style="left:415.3px;letter-spacing:-0.465px;word-spacing:0.893px">[CRMS/Z_Asset/CRM Sytem]</div>
<svg style="left:0;top:0" width="1219" height="26" viewBox="0 0 1219 26"><circle cx="688.5" cy="12.9" r="4.1" fill="#e5fa8b"/><circle cx="771.8" cy="12.9" r="4.1" fill="#e6c58c"/><circle cx="855.0" cy="12.9" r="4.1" fill="#d5607b"/><circle cx="1027.0" cy="12.9" r="4.1" fill="#70b5a6"/></svg>
<div class="t" style="left:903.2px;letter-spacing:-0.119px">administrator</div><div class="t" style="left:1036.2px;letter-spacing:-0.131px;word-spacing:0.559px">In Bewertung</div>
<svg style="left:1170.5px;top:7.3px" width="11" height="11" viewBox="0 0 11 11"><circle cx="5.5" cy="5.5" r="4.8" fill="none" stroke="#6a6a6a" stroke-width="1.1"/><path d="M2.2 2.4l6.6 6.2" stroke="#6a6a6a" stroke-width="1.1"/></svg>
</div>
<div class="row" style="top:210.8px">
<svg style="left:8.5px;top:7.6px" width="10.50" height="10.92" viewBox="0 0 15 15.6"><path d="M7.5 0.2C5.6 1.6 3.2 2.3 0.3 2.3C0.1 8.6 2.3 13 7.5 15.4C12.7 13 14.9 8.6 14.7 2.3C11.8 2.3 9.4 1.6 7.5 0.2Z" fill="#bcc0cc"/><path d="M7.5 2.2C6 3.2 4.2 3.8 2.2 3.9C2.2 8.6 3.9 11.6 7.5 13.4C11.1 11.6 12.8 8.6 12.8 3.9C10.8 3.8 9 3.2 7.5 2.2Z" fill="#c4cad8"/><rect x="6.7" y="4.4" width="1.6" height="4.6" fill="#f6f7fa"/><rect x="6.7" y="10" width="1.6" height="1.6" fill="#f6f7fa"/></svg>
<div class="t" style="left:34.3px;letter-spacing:-0.566px">PRQ00000076</div><div class="t" style="left:153.5px;letter-spacing:-0.409px;word-spacing:0.837px">Datenbank Server</div><div class="t" style="left:415.3px;letter-spacing:-0.322px">[DB01/Z_Asset/Server]</div>
<svg style="left:0;top:0" width="1219" height="26" viewBox="0 0 1219 26"><circle cx="688.5" cy="12.9" r="4.1" fill="#e6c58c"/><circle cx="771.8" cy="12.9" r="4.1" fill="#e6c58c"/><circle cx="855.0" cy="12.9" r="4.1" fill="#d5607b"/><circle cx="1027.0" cy="12.9" r="4.1" fill="#32346a"/></svg>
<div class="t" style="left:903.2px;letter-spacing:-0.119px">administrator</div><div class="t" style="left:1036.2px;letter-spacing:-0.079px">Aktiv</div>
<svg style="left:1170.5px;top:7.3px" width="11" height="11" viewBox="0 0 11 11"><circle cx="5.5" cy="5.5" r="4.8" fill="none" stroke="#6a6a6a" stroke-width="1.1"/><path d="M2.2 2.4l6.6 6.2" stroke="#6a6a6a" stroke-width="1.1"/></svg>
</div>
<div class="row" style="top:237.7px">
<svg style="left:8.5px;top:7.6px" width="10.50" height="10.92" viewBox="0 0 15 15.6"><path d="M7.5 0.2C5.6 1.6 3.2 2.3 0.3 2.3C0.1 8.6 2.3 13 7.5 15.4C12.7 13 14.9 8.6 14.7 2.3C11.8 2.3 9.4 1.6 7.5 0.2Z" fill="#bcc0cc"/><path d="M7.5 2.2C6 3.2 4.2 3.8 2.2 3.9C2.2 8.6 3.9 11.6 7.5 13.4C11.1 11.6 12.8 8.6 12.8 3.9C10.8 3.8 9 3.2 7.5 2.2Z" fill="#c4cad8"/><rect x="6.7" y="4.4" width="1.6" height="4.6" fill="#f6f7fa"/><rect x="6.7" y="10" width="1.6" height="1.6" fill="#f6f7fa"/></svg>
<div class="t" style="left:34.3px;letter-spacing:-0.566px">PRQ00000075</div><div class="t" style="left:153.5px;letter-spacing:-0.513px;word-spacing:0.941px">Demo: Kundenservice</div><div class="t" style="left:415.3px;letter-spacing:-0.282px">[PR0344/Z_Asset/Service]</div>
<svg style="left:0;top:0" width="1219" height="26" viewBox="0 0 1219 26"><circle cx="688.5" cy="12.9" r="4.1" fill="#e5fa8b"/><circle cx="771.8" cy="12.9" r="4.1" fill="#e5fa8b"/><circle cx="855.0" cy="12.9" r="4.1" fill="#e6c58c"/><circle cx="1027.0" cy="12.9" r="4.1" fill="#70b5a6"/></svg>
<div class="t" style="left:903.2px;letter-spacing:-0.119px">administrator</div><div class="t" style="left:1036.2px;letter-spacing:-0.131px;word-spacing:0.559px">In Bewertung</div>
<svg style="left:1170.5px;top:7.3px" width="11" height="11" viewBox="0 0 11 11"><circle cx="5.5" cy="5.5" r="4.8" fill="none" stroke="#6a6a6a" stroke-width="1.1"/><path d="M2.2 2.4l6.6 6.2" stroke="#6a6a6a" stroke-width="1.1"/></svg>
</div>
<div class="row" style="top:264.6px">
<svg style="left:8.5px;top:7.6px" width="10.50" height="10.92" viewBox="0 0 15 15.6"><path d="M7.5 0.2C5.6 1.6 3.2 2.3 0.3 2.3C0.1 8.6 2.3 13 7.5 15.4C12.7 13 14.9 8.6 14.7 2.3C11.8 2.3 9.4 1.6 7.5 0.2Z" fill="#bcc0cc"/><path d="M7.5 2.2C6 3.2 4.2 3.8 2.2 3.9C2.2 8.6 3.9 11.6 7.5 13.4C11.1 11.6 12.8 8.6 12.8 3.9C10.8 3.8 9 3.2 7.5 2.2Z" fill="#c4cad8"/><rect x="6.7" y="4.4" width="1.6" height="4.6" fill="#f6f7fa"/><rect x="6.7" y="10" width="1.6" height="1.6" fill="#f6f7fa"/></svg>
<div class="t" style="left:34.3px;letter-spacing:-0.566px">PRQ00000074</div><div class="t" style="left:153.5px;letter-spacing:-0.401px;word-spacing:0.829px">Demo: Vehicle Fleet Tracking Process</div>
<svg style="left:0;top:0" width="1219" height="26" viewBox="0 0 1219 26"><circle cx="688.5" cy="12.9" r="4.1" fill="#e6c58c"/><circle cx="771.8" cy="12.9" r="4.1" fill="#e6c58c"/><circle cx="855.0" cy="12.9" r="4.1" fill="#d5607b"/><circle cx="1027.0" cy="12.9" r="4.1" fill="#70b5a6"/></svg>
<div class="t" style="left:903.2px;letter-spacing:-0.119px">administrator</div><div class="t" style="left:1036.2px;letter-spacing:-0.131px;word-spacing:0.559px">In Bewertung</div>
<svg style="left:1170.5px;top:7.3px" width="11" height="11" viewBox="0 0 11 11"><circle cx="5.5" cy="5.5" r="4.8" fill="none" stroke="#6a6a6a" stroke-width="1.1"/><path d="M2.2 2.4l6.6 6.2" stroke="#6a6a6a" stroke-width="1.1"/></svg>
</div>
<div class="row" style="top:291.6px">
<svg style="left:8.5px;top:7.6px" width="10.50" height="10.92" viewBox="0 0 15 15.6"><path d="M7.5 0.2C5.6 1.6 3.2 2.3 0.3 2.3C0.1 8.6 2.3 13 7.5 15.4C12.7 13 14.9 8.6 14.7 2.3C11.8 2.3 9.4 1.6 7.5 0.2Z" fill="#bcc0cc"/><path d="M7.5 2.2C6 3.2 4.2 3.8 2.2 3.9C2.2 8.6 3.9 11.6 7.5 13.4C11.1 11.6 12.8 8.6 12.8 3.9C10.8 3.8 9 3.2 7.5 2.2Z" fill="#c4cad8"/><rect x="6.7" y="4.4" width="1.6" height="4.6" fill="#f6f7fa"/><rect x="6.7" y="10" width="1.6" height="1.6" fill="#f6f7fa"/></svg>
<div class="t" style="left:34.3px;letter-spacing:-0.566px">PRQ00000068</div><div class="t" style="left:153.5px;letter-spacing:-0.409px;word-spacing:0.837px">Demo:SBF Vertriebsprozess</div>
<svg style="left:0;top:0" width="1219" height="26" viewBox="0 0 1219 26"><circle cx="688.5" cy="12.9" r="4.1" fill="#e5fa8b"/><circle cx="771.8" cy="12.9" r="4.1" fill="#e5fa8b"/><circle cx="855.0" cy="12.9" r="4.1" fill="#d5607b"/><circle cx="1027.0" cy="12.9" r="4.1" fill="#54808e"/></svg>
<div class="t" style="left:903.2px;letter-spacing:-0.119px">administrator</div><div class="t" style="left:1036.2px;letter-spacing:-0.122px;word-spacing:0.550px">In Überprüfung</div>
<svg style="left:1170.5px;top:7.3px" width="11" height="11" viewBox="0 0 11 11"><circle cx="5.5" cy="5.5" r="4.8" fill="none" stroke="#6a6a6a" stroke-width="1.1"/><path d="M2.2 2.4l6.6 6.2" stroke="#6a6a6a" stroke-width="1.1"/></svg>
</div>
<div class="row" style="top:318.5px">
<svg style="left:8.5px;top:7.6px" width="10.50" height="10.92" viewBox="0 0 15 15.6"><path d="M7.5 0.2C5.6 1.6 3.2 2.3 0.3 2.3C0.1 8.6 2.3 13 7.5 15.4C12.7 13 14.9 8.6 14.7 2.3C11.8 2.3 9.4 1.6 7.5 0.2Z" fill="#bcc0cc"/><path d="M7.5 2.2C6 3.2 4.2 3.8 2.2 3.9C2.2 8.6 3.9 11.6 7.5 13.4C11.1 11.6 12.8 8.6 12.8 3.9C10.8 3.8 9 3.2 7.5 2.2Z" fill="#c4cad8"/><rect x="6.7" y="4.4" width="1.6" height="4.6" fill="#f6f7fa"/><rect x="6.7" y="10" width="1.6" height="1.6" fill="#f6f7fa"/></svg>
<div class="t" style="left:34.3px;letter-spacing:-0.566px">PRQ00000056</div><div class="t" style="left:153.5px;letter-spacing:-0.327px;word-spacing:0.755px">Marketing prozess</div><div class="t" style="left:415.3px;letter-spacing:-0.227px">[P02/Z_Asset/Marketingprozess]</div>
<svg style="left:0;top:0" width="1219" height="26" viewBox="0 0 1219 26"><circle cx="688.5" cy="12.9" r="4.1" fill="#f1b372"/><circle cx="771.8" cy="12.9" r="4.1" fill="#e5fa8b"/><circle cx="855.0" cy="12.9" r="4.1" fill="#e5fa8b"/><circle cx="1027.0" cy="12.9" r="4.1" fill="#54808e"/></svg>
<div class="t" style="left:903.2px;letter-spacing:-0.137px">Informationssicherhe...</div><div class="t" style="left:1036.2px;letter-spacing:-0.122px;word-spacing:0.550px">In Überprüfung</div>
<svg style="left:1170.5px;top:7.3px" width="11" height="11" viewBox="0 0 11 11"><circle cx="5.5" cy="5.5" r="4.8" fill="none" stroke="#6a6a6a" stroke-width="1.1"/><path d="M2.2 2.4l6.6 6.2" stroke="#6a6a6a" stroke-width="1.1"/></svg>
</div>
<div class="vl" style="left:27.6px"></div>
<div class="vl" style="left:146.5px"></div>
<div class="vl" style="left:408.4px"></div>
<div class="vl" style="left:645.8px"></div>
<div class="vl" style="left:729.7px"></div>
<div class="vl" style="left:812.6px"></div>
<div class="vl" style="left:895.8px"></div>
<div class="vl" style="left:1014.0px"></div>
<div class="vl" style="left:1133.1px"></div>
<div class="abs" style="left:1218px;top:24px;width:14px;bottom:0;background:#fff"></div>
<div class="abs" style="left:1219.2px;top:24px;width:11px;bottom:0;background:#f1f1f1"></div>
<div class="abs" style="left:1219.2px;top:37px;width:11px;height:200px;background:#c1c1c1"></div>
<svg style="left:1222.2px;top:28px" width="5" height="4" viewBox="0 0 5 4"><path d="M0 3.6L2.5 0.4 5 3.6z" fill="#777"/></svg>
<svg style="left:1222.2px;top:331px" width="5" height="4" viewBox="0 0 5 4"><path d="M0 0.4h5L2.5 3.6z" fill="#333"/></svg>
</div>
<div class="abs" id="banner"><div class="t" style="letter-spacing:0.279px">Informationssicherheit / ISMS</div></div>
</body>
</html>
